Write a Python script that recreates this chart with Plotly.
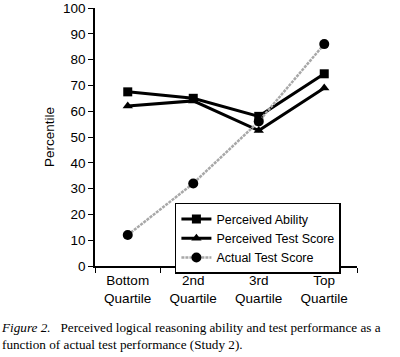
import plotly.graph_objects as go

categories = ["Bottom<br>Quartile", "2nd<br>Quartile", "3rd<br>Quartile", "Top<br>Quartile"]
perceived_ability = [67.5, 65, 58, 74.5]
perceived_test = [62, 64, 52.5, 69]
actual_test = [12, 32, 56, 86]

fig = go.Figure()
fig.add_trace(go.Scatter(x=categories, y=perceived_ability, name="Perceived Ability",
                         mode="lines+markers", line=dict(color="black", width=3),
                         marker=dict(symbol="square", size=9, color="black")))
fig.add_trace(go.Scatter(x=categories, y=perceived_test, name="Perceived Test Score",
                         mode="lines+markers", line=dict(color="black", width=3),
                         marker=dict(symbol="triangle-up", size=9, color="black")))
fig.add_trace(go.Scatter(x=categories, y=actual_test, name="Actual Test Score",
                         mode="lines+markers", line=dict(color="#a8a8a8", width=2.5, dash="3px,1px"),
                         marker=dict(symbol="circle", size=10, color="black")))

fig.update_layout(
    width=400, height=357,
    margin=dict(l=95, r=43, t=8, b=91),
    paper_bgcolor="white", plot_bgcolor="white",
    font=dict(family="Liberation Sans, Arial, sans-serif", size=13, color="black"),
    showlegend=True,
    legend=dict(x=0.305, y=0.245, xanchor="left", yanchor="top",
                bordercolor="black", borderwidth=1.5, bgcolor="white",
                font=dict(size=12.5), tracegroupgap=0, itemwidth=30,
                traceorder="normal"),
    xaxis=dict(showline=True, linecolor="black", linewidth=1.5, ticks="outside",
               tickson="boundaries", ticklen=5, tickcolor="black", showgrid=False,
               zeroline=False, range=[-0.5, 3.5], tickfont=dict(size=13.5),
               automargin=False, ticklabelstandoff=1),
    yaxis=dict(showline=True, linecolor="black", linewidth=1.5, ticks="outside",
               ticklen=5, tickcolor="black", range=[0, 100], dtick=10, showgrid=False,
               zeroline=False, tickfont=dict(size=13.5), automargin=False,
               title=dict(text="Percentile", font=dict(size=13.5), standoff=5)),
    annotations=[dict(
        xref="paper", yref="paper", x=-0.365, y=-0.2, xanchor="left", yanchor="top",
        align="left", showarrow=False,
        text="<i>Figure 2.</i>   Perceived logical reasoning ability and test performance as a<br>function of actual test performance (Study 2).",
        font=dict(family="Liberation Serif, Times New Roman, serif", size=13.2, color="black"))]
)

fig.write_html("out.html", post_script="document.body.style.margin='0';",
               config={"displayModeBar": False})
